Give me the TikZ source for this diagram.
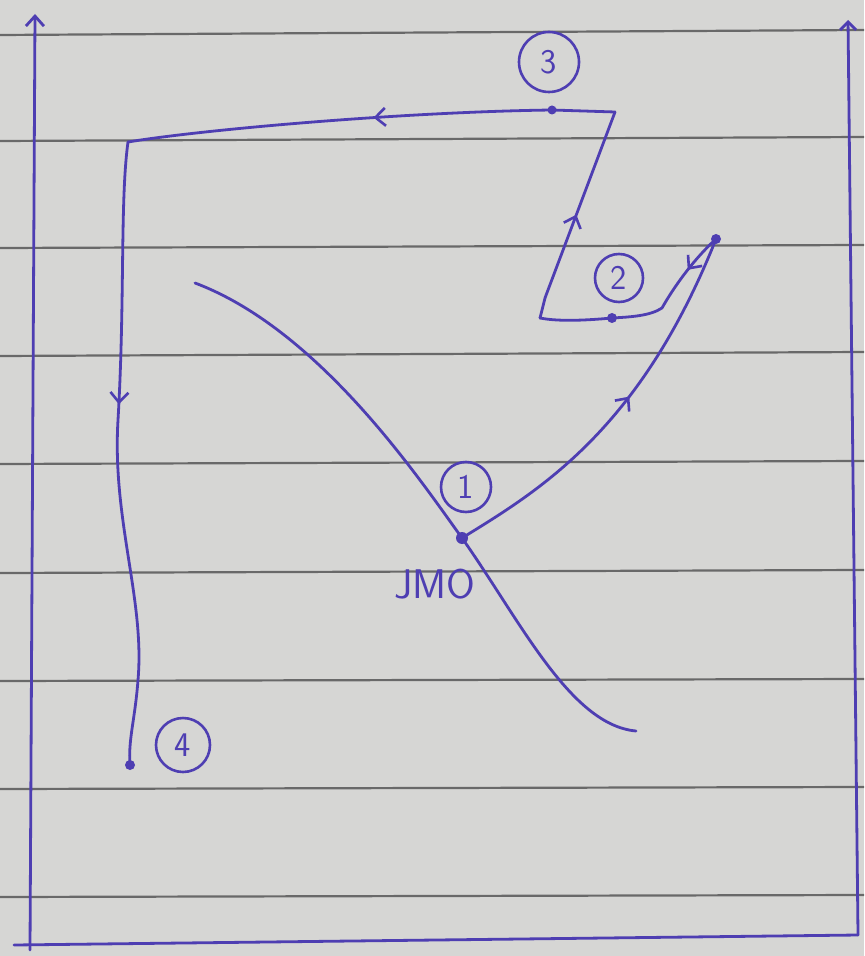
\documentclass[tikz,border=0pt]{standalone}
\usetikzlibrary{arrows.meta,decorations.markings}
\definecolor{paper}{RGB}{214,214,212}
\definecolor{rule}{RGB}{105,105,105}
\definecolor{pen}{RGB}{78,62,178}
\tikzset{
  ink/.style={draw=pen,line width=1.4pt,line cap=round,line join=round},
  ruled/.style={draw=rule,line width=1.1pt},
  numc/.style={circle,draw=pen,line width=1.3pt,text=pen,minimum size=#1,inner sep=0pt,font=\sffamily\LARGE},
  dotpt/.style={circle,fill=pen,inner sep=0pt,minimum size=5pt},
  midarrow/.style={postaction={decorate},decoration={markings,mark=at position #1 with {\arrow[pen,line width=1.3pt]{Straight Barb[length=5pt,width=9pt]}}}}
}
\begin{document}
\begin{tikzpicture}[x=0.5pt,y=-0.5pt]
\fill[paper] (0,0) rectangle (864,956);
\useasboundingbox (0,0) rectangle (864,956);
% ruled lines
\foreach \a/\b in {35/30,141/137,248/245,356/352,464/461,573/570,681/679,789/787,897/895}
  \draw[ruled] (0,\a) -- (864,\b);
% frame / axes
\coordinate (yb) at (30,950);
\coordinate (yt) at (35,14);
\coordinate (xl) at (14,945);
\coordinate (xr) at (858,935);
\coordinate (rb) at (858,935);
\coordinate (rt) at (848,20);
\draw[ink,-{Straight Barb[length=5pt,width=9pt]}] (yb) -- (yt);
\draw[ink] (xl) -- (xr);
\draw[ink,-{Straight Barb[length=4pt,width=8pt]}] (rb) -- (rt);
% curve
\coordinate (c0) at (195,283);
\coordinate (c6) at (636,731);
\draw[ink] (c0) .. controls (320,330) and (420,480) .. (462,538)
  .. controls (520,620) and (570,725) .. (c6);
% points
\node[dotpt,minimum size=6pt] (p1) at (462,538) {};
\node[dotpt] (a) at (716,239) {};
\node[dotpt] (p2) at (612,318) {};
\coordinate (b) at (540,318);
\coordinate (c) at (615,112);
\node[dotpt,minimum size=4.5pt] (p3) at (552,110) {};
\coordinate (d) at (128,142);
\node[dotpt] (p4) at (130,765) {};
% path segments
\draw[ink,midarrow=0.55] (p1.center) .. controls (540,490) and (640,430) .. (a.center);
\draw[ink,midarrow=0.3] (a.center) .. controls (695,258) and (675,285) .. (662,308) .. controls (650,316) and (630,317) .. (p2.center);
\draw[ink] (p2.center) .. controls (590,320) and (560,322) .. (b);
\draw[ink,midarrow=0.5] (b) -- (545,298) -- (c);
\draw[ink] (c) -- (p3.center);
\draw[ink,midarrow=0.42] (p3.center) .. controls (400,112) and (200,130) .. (d);
\draw[ink,midarrow=0.42] (d) .. controls (120,200) and (125,300) .. (118,420)
  .. controls (112,520) and (145,600) .. (138,680) .. controls (135,720) and (128,740) .. (p4.center);
% labels
\node[numc=30pt] (n3) at (549,62) {3};
\node[numc=24pt] (n2) at (619,278) {2};
\node[numc=25pt] (n1) at (466,487) {1};
\node[numc=27pt] (n4) at (183,745) {4};
\node[text=pen,font=\sffamily\huge] (lab) at (435,584) {JMO};
\end{tikzpicture}
\end{document}
